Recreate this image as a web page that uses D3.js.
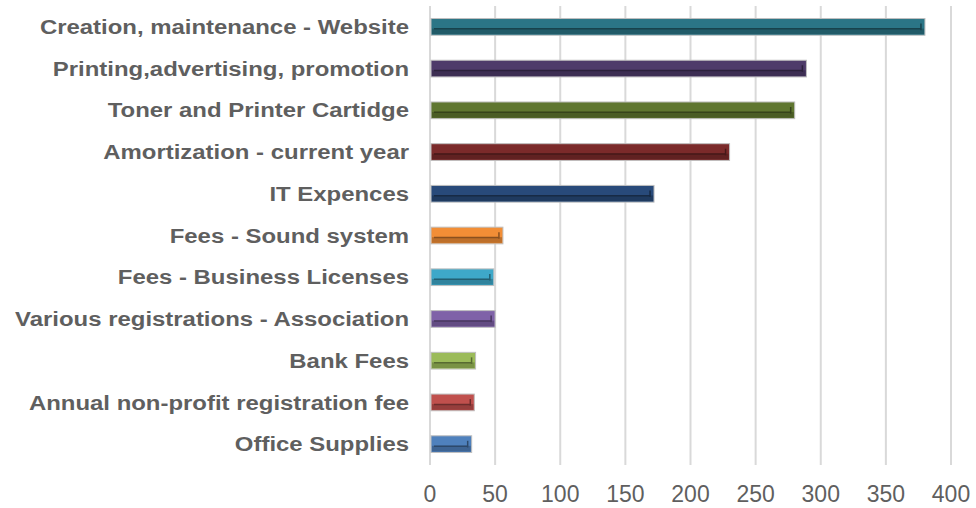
<!DOCTYPE html>
<html>
<head>
<meta charset="utf-8">
<script src="https://cdn.jsdelivr.net/npm/d3@7"></script>
<style>
  body { margin: 0; background: #fff; }
  svg { display: block; }
</style>
</head>
<body>
<div id="chart"></div>
<script>
// data, top to bottom
var categories = [
  'Creation, maintenance - Website',
  'Printing,advertising, promotion',
  'Toner and Printer Cartidge',
  'Amortization - current year',
  'IT Expences',
  'Fees - Sound system',
  'Fees - Business Licenses',
  'Various registrations - Association',
  'Bank Fees',
  'Annual non-profit registration fee',
  'Office Supplies'
];
var values = [380, 289, 280, 230, 172, 56, 49, 50, 35, 34, 32];
var barColors = ['#2b7586', '#4e3b6a', '#5f7630', '#7b2a2a', '#284a7a',
  '#f28e36', '#3ea8c9', '#7f62a8', '#9bbb59', '#c0504d', '#4f81bd'];
var ticks = [0, 50, 100, 150, 200, 250, 300, 350, 400];

var width = 976, height = 508;
var margin = { top: 6, right: 25, bottom: 43, left: 430 };
var textColor = '#5f5f5f';
var font = 'Liberation Sans, Arial, sans-serif';

var svg = d3.select('#chart').append('svg')
  .attr('width', width)
  .attr('height', height);

var x = d3.scaleLinear()
  .domain([0, 400])
  .range([margin.left, width - margin.right]);

var y = d3.scaleBand()
  .domain(categories)
  .range([margin.top, height - margin.bottom])
  .paddingInner(0.6)
  .paddingOuter(0.3);

// vertical gridlines
svg.append('g')
  .selectAll('line')
  .data(ticks)
  .enter().append('line')
  .attr('x1', function(d) { return x(d); })
  .attr('x2', function(d) { return x(d); })
  .attr('y1', margin.top)
  .attr('y2', height - margin.bottom)
  .attr('stroke', '#d9d9d9')
  .attr('stroke-width', 2);

// x tick labels
svg.append('g')
  .selectAll('text')
  .data(ticks)
  .enter().append('text')
  .attr('x', function(d) { return x(d); })
  .attr('y', 502)
  .attr('text-anchor', 'middle')
  .attr('fill', textColor)
  .style('font-family', font)
  .style('font-size', '23px')
  .text(function(d) { return d; });

// category labels (the original is a bit wider than tall)
svg.append('g')
  .selectAll('text')
  .data(categories)
  .enter().append('text')
  .attr('transform', function(d) {
    return 'translate(409,' + (y(d) + y.bandwidth() / 2) + ') scale(1.14,1)';
  })
  .attr('dy', '0.34em')
  .attr('text-anchor', 'end')
  .attr('fill', textColor)
  .style('font-family', font)
  .style('font-size', '21px')
  .style('font-weight', 'bold')
  .text(function(d) { return d; });

// bars with a bevel look
var bars = svg.append('g')
  .selectAll('g')
  .data(values)
  .enter().append('g');

bars.append('rect')
  .attr('x', x(0) + 1)
  .attr('y', function(d, i) { return y(categories[i]); })
  .attr('width', function(d) { return x(d) - x(0) - 1; })
  .attr('height', y.bandwidth())
  .attr('fill', function(d, i) { return barColors[i]; })
  .attr('stroke', '#bfbfbf')
  .attr('stroke-width', 1);

// darker lower part
bars.append('rect')
  .attr('x', x(0) + 2)
  .attr('y', function(d, i) { return y(categories[i]) + y.bandwidth() * 0.6; })
  .attr('width', function(d) { return x(d) - x(0) - 3; })
  .attr('height', y.bandwidth() * 0.4 - 1)
  .attr('fill', function(d, i) { return d3.color(barColors[i]).darker(0.7); });

// inner dark groove
bars.append('line')
  .attr('x1', x(0) + 4)
  .attr('x2', function(d) { return x(d) - 4; })
  .attr('y1', function(d, i) { return y(categories[i]) + y.bandwidth() * 0.62; })
  .attr('y2', function(d, i) { return y(categories[i]) + y.bandwidth() * 0.62; })
  .attr('stroke', function(d, i) { return d3.color(barColors[i]).darker(1.6); })
  .attr('stroke-width', 1.5);

// right end tick
bars.append('line')
  .attr('x1', function(d) { return x(d) - 4; })
  .attr('x2', function(d) { return x(d) - 4; })
  .attr('y1', function(d, i) { return y(categories[i]) + y.bandwidth() * 0.3; })
  .attr('y2', function(d, i) { return y(categories[i]) + y.bandwidth() * 0.7; })
  .attr('stroke', function(d, i) { return d3.color(barColors[i]).darker(1.6); })
  .attr('stroke-width', 1.5);
</script>
</body>
</html>
